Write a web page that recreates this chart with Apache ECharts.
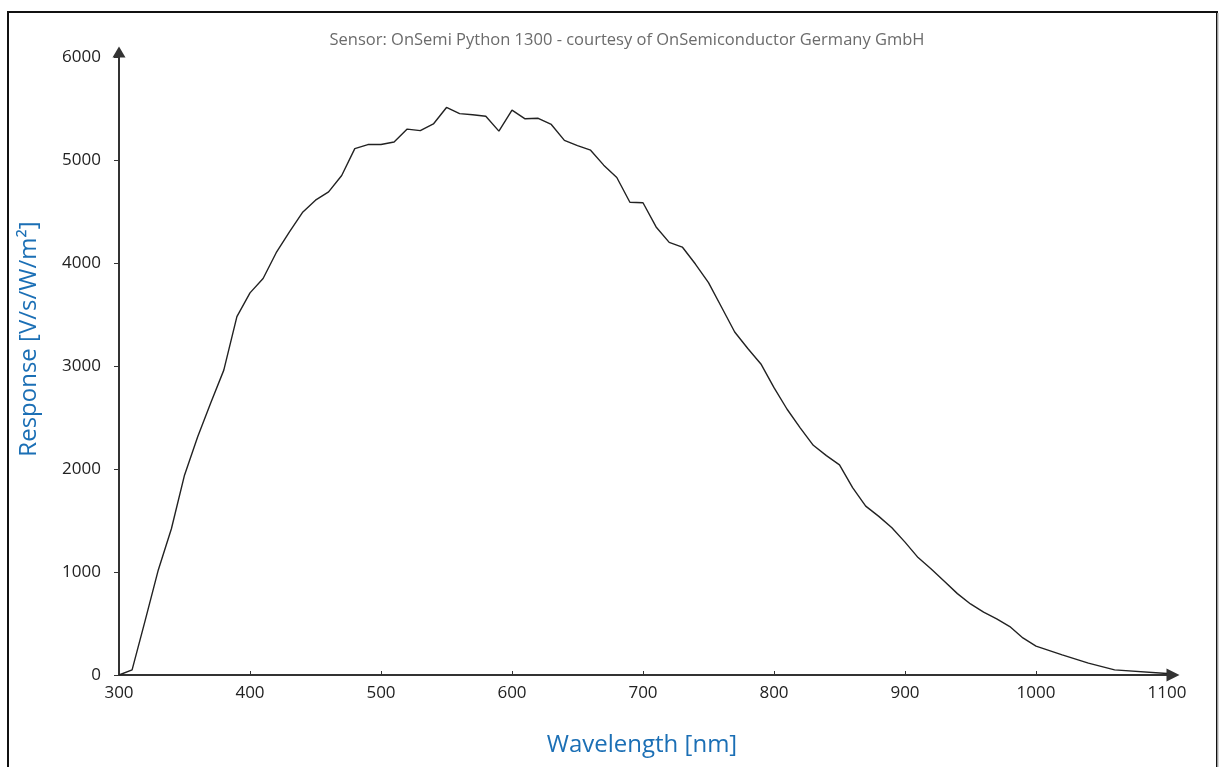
<!DOCTYPE html>
<html>
<head>
<meta charset="utf-8">
<script src="https://cdn.jsdelivr.net/npm/echarts@6/dist/echarts.min.js"></script>
<style>
html,body{margin:0;padding:0;background:#fff;}
#c{width:1219px;height:767px;}
</style>
</head>
<body>
<div id="c"></div>
<script>
var wavelengths = [300,310,320,330,340,350,360,370,380,390,400,410,420,430,440,450,460,470,480,490,500,510,520,530,540,550,560,570,580,590,600,610,620,630,640,650,660,670,680,690,700,710,720,730,740,750,760,770,780,790,800,810,820,830,840,850,860,870,880,890,900,910,920,930,940,950,960,970,980,990,1000,1020,1040,1060,1100];
var responses = [0,50,530,1020,1420,1940,2310,2640,2960,3480,3710,3850,4100,4300,4490,4610,4690,4850,5110,5150,5150,5175,5300,5285,5350,5510,5450,5440,5425,5280,5485,5400,5405,5345,5190,5140,5095,4950,4830,4590,4585,4350,4200,4155,3990,3810,3570,3330,3170,3020,2790,2580,2400,2230,2130,2040,1820,1640,1540,1430,1290,1140,1030,910,790,690,610,545,470,360,280,195,115,50,15];
var xTicks = [300,400,500,600,700,800,900,1000,1100];
var yTicks = [0,1000,2000,3000,4000,5000,6000];
var titleText = 'Sensor: OnSemi Python 1300 - courtesy of OnSemiconductor Germany GmbH';
var xName = 'Wavelength [nm]';
var yName = 'Response [V/s/W/m\u00b2]';

var data = wavelengths.map(function(w,i){return [w,responses[i]];});
var chart = echarts.init(document.getElementById('c'), null, {renderer:'canvas'});
var font = '"Open Sans", "Noto Sans", sans-serif';
function plain(v){return String(v);}
chart.setOption({
  animation:false,
  backgroundColor:'#fff',
  title:{
    text:titleText, left:622, top:27, textAlign:'center',
    textStyle:{color:'#6b6b6b', fontSize:16.5, fontWeight:'normal', fontFamily:font}
  },
  grid:{left:119, right:52, top:57, bottom:92, containLabel:false},
  xAxis:{
    type:'value', min:xTicks[0], max:xTicks[xTicks.length-1], interval:100,
    axisLine:{show:true, lineStyle:{color:'#333', width:2}, symbol:['none','triangle'], symbolSize:[13,13], symbolOffset:[0,6]},
    axisTick:{show:true, inside:true, length:4, lineStyle:{color:'#333', width:1}},
    axisLabel:{color:'#222', fontSize:17, fontFamily:font, margin:10, formatter:plain},
    splitLine:{show:false}
  },
  yAxis:{
    type:'value', min:yTicks[0], max:yTicks[yTicks.length-1], interval:1000,
    axisLine:{show:true, lineStyle:{color:'#333', width:2}, symbol:['none','triangle'], symbolSize:[13,11], symbolOffset:[0,5]},
    axisTick:{show:true, inside:false, length:5, lineStyle:{color:'#333', width:1}},
    axisLabel:{color:'#222', fontSize:17, fontFamily:font, margin:18, formatter:plain},
    splitLine:{show:false}
  },
  series:[{
    type:'line', data:data, showSymbol:false, symbol:'none', smooth:false,
    lineStyle:{color:'#222', width:1.4}
  }],
  graphic:[
    {type:'rect', silent:true, z:-1, shape:{x:8, y:12, width:1209, height:800}, style:{fill:'none', stroke:'#111', lineWidth:2}},
    {type:'line', silent:true, shape:{x1:1218, y1:13, x2:1218, y2:767}, style:{stroke:'#c8c8c8', lineWidth:1.5}},
    {type:'text', silent:true, x:642, y:745, style:{text:xName, fill:'#1b6fb5', fontSize:24, fontFamily:font, align:'center', verticalAlign:'middle'}},
    {type:'text', silent:true, x:29, y:339, rotation:Math.PI/2, style:{text:yName, fill:'#1b6fb5', fontSize:24, fontFamily:font, align:'center', verticalAlign:'middle'}}
  ]
});
</script>
</body>
</html>
